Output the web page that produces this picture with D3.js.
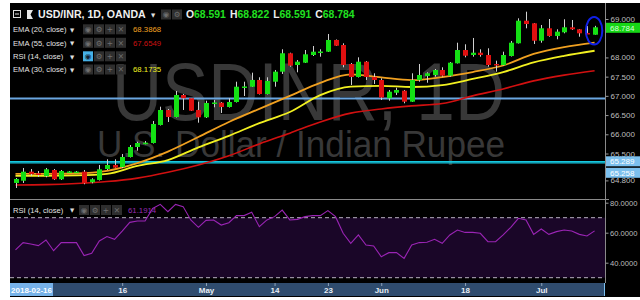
<!DOCTYPE html>
<html><head><meta charset="utf-8">
<script src="https://cdn.jsdelivr.net/npm/d3@7"></script>
<style>html,body{margin:0;padding:0;background:#fff;}svg{display:block;}</style>
</head><body>
<svg id="c" width="640" height="300"></svg>
<script>
const dates = ["2018-03-27","2018-03-28","2018-03-29","2018-03-30",
"2018-04-02","2018-04-03","2018-04-04","2018-04-05","2018-04-06","2018-04-09","2018-04-10","2018-04-11","2018-04-12","2018-04-13","2018-04-16","2018-04-17","2018-04-18","2018-04-19","2018-04-20","2018-04-23","2018-04-24","2018-04-25","2018-04-26","2018-04-27","2018-04-30",
"2018-05-01","2018-05-02","2018-05-03","2018-05-04","2018-05-07","2018-05-08","2018-05-09","2018-05-10","2018-05-11","2018-05-14","2018-05-15","2018-05-16","2018-05-17","2018-05-18","2018-05-21","2018-05-22","2018-05-23","2018-05-24","2018-05-25","2018-05-28","2018-05-29","2018-05-30","2018-05-31",
"2018-06-01","2018-06-04","2018-06-05","2018-06-06","2018-06-07","2018-06-08","2018-06-11","2018-06-12","2018-06-13","2018-06-14","2018-06-15","2018-06-18","2018-06-19","2018-06-20","2018-06-21","2018-06-22","2018-06-25","2018-06-26","2018-06-27","2018-06-28","2018-06-29",
"2018-07-02","2018-07-03","2018-07-04","2018-07-05","2018-07-06","2018-07-09","2018-07-10","2018-07-11"];

const opens = [64.733,64.792,65.027,64.985,64.915,65.071,64.829,65.019,65.012,65.027,64.751,64.811,65.097,65.201,65.149,65.409,65.669,65.766,65.773,66.242,66.632,66.450,67.022,66.937,66.632,66.442,66.814,66.822,66.710,66.840,67.231,67.238,67.413,67.048,67.368,67.629,68.108,67.803,67.863,68.063,68.141,68.149,68.454,68.323,67.829,67.491,67.889,67.491,67.413,66.937,67.082,67.134,66.848,67.413,67.517,67.543,67.673,67.525,67.847,68.193,68.063,68.123,68.063,67.829,67.803,68.037,68.368,68.956,68.888,68.435,68.758,68.558,68.654,68.784,68.732,68.636,68.591];
const highs = [64.863,65.123,65.097,65.045,65.123,65.097,65.071,65.045,65.045,65.071,64.855,65.201,65.349,65.349,65.487,65.721,65.807,65.825,66.346,66.718,66.658,67.127,67.048,66.944,66.848,66.874,66.892,66.840,66.937,67.368,67.368,67.603,67.483,67.483,67.673,68.212,68.123,67.933,68.193,68.297,68.212,68.610,68.467,68.368,67.855,68.003,67.907,67.587,67.457,67.153,67.212,67.153,67.587,67.829,67.613,67.699,67.743,67.881,68.383,68.342,68.506,68.212,68.238,67.915,68.149,68.428,69.018,69.190,68.896,68.844,69.000,68.732,68.992,68.974,68.740,68.818,68.822];
const lows = [64.602,64.733,64.915,64.889,64.881,64.811,64.811,65.006,65.000,64.699,64.725,64.798,65.071,65.123,65.123,65.396,65.573,65.740,65.760,66.229,66.320,66.437,66.632,66.606,66.302,66.424,66.702,66.554,66.697,66.827,66.996,67.231,67.035,67.035,67.238,67.569,67.759,67.613,67.855,68.037,68.019,68.141,68.297,67.743,67.283,67.478,67.413,67.309,66.892,66.874,67.022,66.806,66.840,67.368,67.342,67.499,67.499,67.499,67.842,68.003,68.019,68.019,67.759,67.629,67.790,68.024,68.362,68.758,68.349,68.383,68.539,68.472,68.628,68.714,68.539,68.610,68.591];
const closes = [64.837,65.027,64.967,64.941,65.089,64.829,65.045,65.032,65.028,64.725,64.829,65.089,65.201,65.131,65.409,65.669,65.773,65.781,66.268,66.632,66.450,67.022,66.937,66.614,66.442,66.814,66.827,66.710,66.840,67.238,67.244,67.413,67.048,67.387,67.629,68.108,67.785,67.889,68.081,68.149,68.154,68.454,68.305,67.803,67.491,67.889,67.491,67.413,66.957,67.108,67.153,66.848,67.413,67.543,67.587,67.673,67.525,67.863,68.193,68.045,68.123,68.063,67.803,67.803,68.063,68.383,68.956,68.870,68.435,68.758,68.558,68.670,68.784,68.732,68.628,68.617,68.784];

// EMA values read at every 4th bar
const emaIdx = [0,4,8,12,16,20,24,28,32,36,40,44,48,52,56,60,64,68,72,76];
const ema20 = [64.97,64.97,64.98,65.05,65.25,65.55,65.93,66.32,66.66,67.00,67.34,67.56,67.48,67.41,67.49,67.62,67.79,68.09,68.27,68.3868];
const ema30 = [64.92,64.92,64.93,64.97,65.18,65.33,65.66,65.96,66.29,66.58,67.02,67.24,67.26,67.23,67.28,67.44,67.62,67.87,68.04,68.1735];
const ema55 = [64.68,64.69,64.72,64.77,64.86,65.01,65.20,65.44,65.75,66.03,66.32,66.55,66.66,66.74,66.80,67.00,67.18,67.39,67.54,67.6549];

const rsi = [48.5,53.4,52.5,51.4,55.1,48.0,53.4,53.4,53.4,44.7,46.2,54.5,57.4,55.6,61.1,66.9,67.8,67.8,76.2,78.9,74.0,78.9,77.4,68.5,63.6,68.2,68.5,65.1,66.7,71.4,71.4,73.6,64.0,68.5,70.7,75.1,68.5,68.9,70.7,71.4,71.4,74.7,70.7,59.6,52.9,58.5,51.8,51.1,44.0,46.7,46.7,42.9,51.8,53.4,53.6,55.6,52.9,58.5,61.8,60.2,60.2,59.6,54.0,54.0,58.5,63.6,69.6,68.5,58.9,62.5,58.9,60.7,61.8,61.1,58.9,57.8,61.1914];

const priceTicks = [69, 68, 67.5, 67, 66.5, 66, 65.5, 64.8];
const rsiTicks = [80, 60, 40];
const rsiBand = [70, 30];
const levelBlue = 66.93;
const levelCyan = [65.289, 65.258];
const timeTickDates = ["2018-04-16","2018-05-01","2018-05-14","2018-05-23","2018-06-01","2018-06-18","2018-07-02"];
const timeTickLabels = ["16","May","14","23","Jun","18","Jul"];

const FONT = "'Liberation Sans', Arial, 'DejaVu Sans', sans-serif";
const svg = d3.select('#c').style('font-family', FONT);

const L = 10, R = 605, TOP = 3, SEP = 199, RB = 283, TB = 297;

svg.append('rect').attr('x', L).attr('y', TOP).attr('width', 640 - L).attr('height', TB - TOP).attr('fill', '#000');

const x = d3.scalePoint().domain(dates).range([15.5, 594.6]);
const yP = d3.scaleLinear().domain([64.8, 69]).range([180.4, 19]);
const yR = d3.scaleLinear().domain([30, 70]).range([277.7, 217.7]);

svg.append('clipPath').attr('id', 'pc').append('rect').attr('x', L).attr('y', TOP).attr('width', R - L).attr('height', SEP - TOP);
svg.append('clipPath').attr('id', 'rc').append('rect').attr('x', L).attr('y', SEP).attr('width', R - L).attr('height', RB - SEP);

const pane = svg.append('g').attr('clip-path', 'url(#pc)');

// watermark
pane.append('text').attr('x', 112).attr('y', 120).attr('font-size', 82).attr('fill', '#383838')
  .attr('textLength', 393).attr('lengthAdjust', 'spacingAndGlyphs').text('USDINR, 1D');
pane.append('text').attr('x', 97).attr('y', 157).attr('font-size', 37).attr('fill', '#383838')
  .attr('textLength', 408).attr('lengthAdjust', 'spacingAndGlyphs').text('U.S. Dollar / Indian Rupee');

// horizontal levels
pane.append('line').attr('x1', L).attr('x2', R).attr('y1', yP(levelBlue)).attr('y2', yP(levelBlue))
  .attr('stroke', '#6aa6e0').attr('stroke-width', 2);
levelCyan.forEach(v => pane.append('line').attr('x1', L).attr('x2', R).attr('y1', yP(v)).attr('y2', yP(v))
  .attr('stroke', '#16c8e0').attr('stroke-width', 1.2));

// EMA lines
const emaLine = arr => d3.line().curve(d3.curveMonotoneX).x((d, i) => x(dates[emaIdx[i]])).y(d => yP(d))(arr);
pane.append('path').attr('d', emaLine(ema55)).attr('fill', 'none').attr('stroke', '#d11010').attr('stroke-width', 1.6);
pane.append('path').attr('d', emaLine(ema30)).attr('fill', 'none').attr('stroke', '#f2f020').attr('stroke-width', 1.8);
pane.append('path').attr('d', emaLine(ema20)).attr('fill', 'none').attr('stroke', '#f0a020').attr('stroke-width', 1.8);

// candles
const bw = 5;
const cg = pane.append('g');
dates.forEach((d, i) => {
  const cx = Math.round(x(d)) + 0.5;
  const up = closes[i] >= opens[i];
  cg.append('line').attr('x1', cx).attr('x2', cx).attr('y1', yP(highs[i])).attr('y2', yP(lows[i]))
    .attr('stroke', '#d0d0d0').attr('stroke-width', 1);
  const yt = yP(Math.max(opens[i], closes[i])), yb = yP(Math.min(opens[i], closes[i]));
  cg.append('rect').attr('x', cx - bw / 2).attr('y', yt).attr('width', bw).attr('height', Math.max(1.5, yb - yt))
    .attr('fill', up ? '#14e014' : '#e01010');
});

// highlight ellipse
const li = dates.length - 1;
pane.append('ellipse').attr('cx', x(dates[li]) - 0.5).attr('cy', yP((highs[li] + lows[li]) / 2) + 0.5)
  .attr('rx', 8.2).attr('ry', 13.8).attr('fill', 'none').attr('stroke', '#1020e8').attr('stroke-width', 2);

// RSI pane
svg.append('rect').attr('x', L).attr('y', yR(rsiBand[0])).attr('width', R - L).attr('height', yR(rsiBand[1]) - yR(rsiBand[0])).attr('fill', '#1a0628');
rsiBand.forEach(v => svg.append('line').attr('x1', L).attr('x2', R).attr('y1', yR(v)).attr('y2', yR(v))
  .attr('stroke', '#b8b0c0').attr('stroke-dasharray', '4,3').attr('stroke-width', 1));
svg.append('g').attr('clip-path', 'url(#rc)').append('path')
  .attr('d', d3.line().x((d, i) => x(dates[i])).y(d => yR(d))(rsi))
  .attr('fill', 'none').attr('stroke', '#9a24b4').attr('stroke-width', 1.1);

// separators
svg.append('line').attr('x1', L).attr('x2', R + 4).attr('y1', SEP + 0.5).attr('y2', SEP + 0.5).attr('stroke', '#8a8a8a');
svg.append('line').attr('x1', R + 0.5).attr('x2', R + 0.5).attr('y1', TOP).attr('y2', RB).attr('stroke', '#8a8a8a');

// price axis
const pAxis = svg.append('g').attr('transform', `translate(${R + 0.5},0)`)
  .call(d3.axisRight(yP).tickValues(priceTicks).tickFormat(d3.format('.3f')).tickSize(3));
pAxis.select('.domain').remove();
pAxis.selectAll('line').attr('stroke', '#9a9a9a');
pAxis.selectAll('text').attr('fill', '#bdbdbd').attr('font-size', 8).attr('x', 5).style('font-family', FONT);

const rAxis = svg.append('g').attr('transform', `translate(${R + 0.5},0)`)
  .call(d3.axisRight(yR).tickValues(rsiTicks).tickFormat(d3.format('.4f')).tickSize(3));
rAxis.select('.domain').remove();
rAxis.selectAll('line').attr('stroke', '#9a9a9a');
rAxis.selectAll('text').attr('fill', '#bdbdbd').attr('font-size', 7.6).attr('x', 4.5).style('font-family', FONT);

function axisLabel(v, bg, fg, yc) {
  svg.append('rect').attr('x', R + 1).attr('y', yc - 5).attr('width', 640 - R - 1).attr('height', 10).attr('fill', bg);
  svg.append('text').attr('x', R + 5).attr('y', yc + 3).attr('font-size', 8).attr('fill', fg).text(d3.format('.3f')(v));
}
axisLabel(levelCyan[0], '#7cc0ee', '#ffffff', yP(levelCyan[0]) - 0.3);
axisLabel(levelCyan[1], '#7cc0ee', '#ffffff', yP(levelCyan[1]) + 10);
axisLabel(closes[li], '#16d616', '#d8ffd8', yP(closes[li]) + 0.5);

// time axis
svg.append('rect').attr('x', L).attr('y', RB).attr('width', R - L).attr('height', TB - RB - 1).attr('fill', '#2f4c6e');
const tAxis = svg.append('g').attr('transform', `translate(0,${RB})`)
  .call(d3.axisBottom(x).tickValues(timeTickDates).tickFormat((d, i) => timeTickLabels[i]).tickSize(3));
tAxis.select('.domain').remove();
tAxis.selectAll('line').attr('stroke', '#8fa3bb');
tAxis.selectAll('text').attr('fill', '#e8eef5').attr('font-size', 8).attr('font-weight', 'bold').attr('y', 4).attr('dy', '0.71em').style('font-family', FONT);
svg.append('rect').attr('x', L).attr('y', RB).attr('width', 43).attr('height', TB - RB - 1).attr('fill', '#76b2e8');
svg.append('text').attr('x', L + 21.5).attr('y', RB + 10).attr('text-anchor', 'middle').attr('font-size', 8)
  .attr('font-weight', 'bold').attr('fill', '#fff').text('2018-02-16');
svg.append('line').attr('x1', R - 0.5).attr('x2', R - 0.5).attr('y1', RB).attr('y2', TB - 1).attr('stroke', '#7cc0ee');

// icon boxes (glyph texts)
function iconBoxes(x0, yc, glyphs, hl) {
  glyphs.forEach((gl, k) => {
    const on = k === hl;
    svg.append('rect').attr('x', x0 + k * 11).attr('y', yc - 5).attr('width', 10).attr('height', 10)
      .attr('fill', on ? '#45b0e6' : '#2e2e2e');
    svg.append('text').attr('x', x0 + k * 11 + 5).attr('y', yc + 2.8).attr('text-anchor', 'middle')
      .attr('font-size', 7.5).attr('fill', on ? '#123' : '#6e6e6e').style('font-family', "'DejaVu Sans', sans-serif").text(gl);
  });
}
function caret(cx, cy) {
  svg.append('text').attr('x', cx).attr('y', cy + 2.2).attr('text-anchor', 'middle').attr('font-size', 5.5)
    .attr('fill', '#ddd').style('font-family', "'DejaVu Sans', sans-serif").text('▼');
}

// header
svg.append('rect').attr('x', 13.5).attr('y', 10.5).attr('width', 7).attr('height', 7).attr('fill', 'none').attr('stroke', '#ddd');
svg.append('line').attr('x1', 15).attr('x2', 19).attr('y1', 14).attr('y2', 14).attr('stroke', '#ddd');
svg.append('path').attr('d', 'M27,10 L33,10 L30.5,14.5 L33,19 L27,19 Z').attr('fill', '#e8e8e8');
svg.append('text').attr('x', 38).attr('y', 18.3).attr('font-size', 10.6).attr('font-weight', 'bold').attr('fill', '#f0f0f0').text('USD/INR, 1D, OANDA');
caret(153, 14.5);
iconBoxes(161, 14.5, ['◉', '⚙'], -1);
const ohlc = svg.append('text').attr('x', 186).attr('y', 18.3).attr('font-size', 10.4).attr('font-weight', 'bold');
[['O', opens[li]], ['H', highs[li]], ['L', lows[li]], ['C', closes[li]]].forEach((p, k) => {
  ohlc.append('tspan').attr('fill', '#eeeeee').attr('dx', k ? 4 : 0).text(p[0]);
  ohlc.append('tspan').attr('fill', '#20e020').text(d3.format('.3f')(p[1]));
});

const glyphs = ['◉', '⚙', '+', '✕'];
const legend = [
  ['EMA (20, close)', ema20[ema20.length - 1].toFixed(4), '#f0a020', 29.3, -1],
  ['EMA (55, close)', ema55[ema55.length - 1].toFixed(4), '#cc1010', 42.8, -1],
  ['RSI (14, close)', '', '', 56.3, 0],
  ['EMA (30, close)', ema30[ema30.length - 1].toFixed(4), '#f0f020', 69.5, -1]
];
legend.forEach(r => {
  svg.append('text').attr('x', 13).attr('y', r[3] + 2.8).attr('font-size', 7.6).attr('fill', '#e4e4e4').text(r[0]);
  caret(72, r[3]);
  iconBoxes(83, r[3], glyphs, r[4]);
  if (r[1]) svg.append('text').attr('x', 133).attr('y', r[3] + 2.8).attr('font-size', 7.8).attr('fill', r[2]).text(r[1]);
});
// RSI pane legend
svg.append('text').attr('x', 13).attr('y', 212.8).attr('font-size', 7.6).attr('fill', '#e4e4e4').text('RSI (14, close)');
caret(72, 210);
iconBoxes(79, 210, glyphs, -1);
svg.append('text').attr('x', 128).attr('y', 212.8).attr('font-size', 7.8).attr('fill', '#9a2cb4').text(rsi[rsi.length - 1].toFixed(4));
</script>
</body></html>
